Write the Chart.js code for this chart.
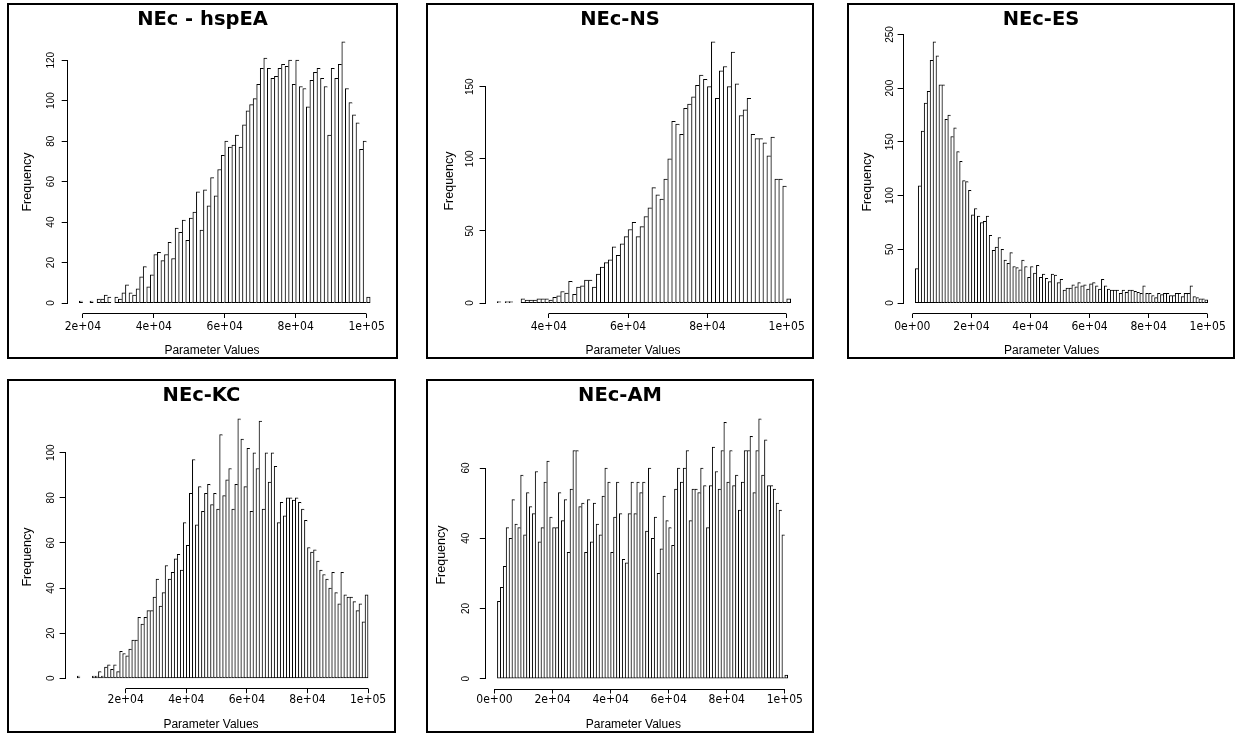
<!DOCTYPE html>
<html>
<head>
<meta charset="utf-8">
<script src="https://cdn.jsdelivr.net/npm/chart.js@4.4.1/dist/chart.umd.min.js"></script>
<style>
  html, body { margin: 0; padding: 0; background: #fff; }
  body { position: relative; width: 1236px; height: 736px; overflow: hidden; font-family: 'Liberation Sans', Arial, sans-serif; color: #000; }
  canvas { position: absolute; }
  .frame { position: absolute; box-sizing: border-box; border: 2px solid #000; pointer-events: none; }
  .lbl { position: absolute; white-space: nowrap; line-height: 1; transform: translate(-50%, -50%); }
  .title { font: bold 19.5px 'DejaVu Sans', Verdana, sans-serif; }
  .xlab { font-size: 12px; }
  .ylab { font-size: 12.5px; transform: translate(-50%, -50%) rotate(-90deg); }
</style>
</head>
<body>
<script>
// Histogram bins are 1000 wide; each counts array starts at its *_start break.
const BIN_WIDTH = 1000;

const hspEA_start = 19000;
const hspEA_counts = [
  1, 0, 0, 1, 0, 2, 2, 4, 3, 0,
  3, 2, 5, 9, 5, 4, 7, 13, 18, 8,
  14, 24, 25, 21, 24, 30, 22, 37, 35, 41,
  31, 42, 45, 55, 36, 56, 48, 62, 53, 66,
  73, 80, 77, 78, 83, 77, 88, 95, 98, 101,
  108, 116, 121, 116, 111, 112, 116, 118, 117, 120,
  108, 120, 107, 106, 97, 110, 114, 116, 111, 107,
  83, 116, 111, 118, 129, 106, 99, 93, 89, 76,
  80, 3
];
const hspEA_xticks = [20000, 40000, 60000, 80000, 100000];
const hspEA_yticks = [0, 20, 40, 60, 80, 100, 120];

const ns_start = 27000;
const ns_counts = [
  1, 0, 1, 1, 0, 0, 3, 2, 2, 2,
  3, 3, 3, 2, 4, 5, 8, 7, 15, 6,
  11, 12, 16, 16, 11, 20, 25, 28, 30, 39,
  33, 41, 46, 51, 56, 46, 53, 60, 66, 80,
  75, 72, 86, 100, 126, 124, 117, 135, 138, 143,
  151, 158, 155, 150, 181, 142, 161, 164, 150, 174,
  152, 130, 134, 142, 117, 114, 114, 111, 102, 115,
  86, 86, 81, 3
];
const ns_xticks = [40000, 60000, 80000, 100000];
const ns_yticks = [0, 50, 100, 150];

const es_start = 1000;
const es_counts = [
  32, 109, 160, 186, 197, 226, 243, 230, 203, 203,
  171, 175, 155, 163, 141, 132, 114, 113, 105, 82,
  88, 81, 75, 76, 81, 63, 49, 52, 61, 50,
  40, 37, 47, 34, 33, 31, 40, 34, 24, 34,
  28, 35, 24, 27, 23, 20, 27, 26, 19, 22,
  12, 14, 14, 17, 15, 19, 16, 17, 13, 18,
  19, 16, 13, 22, 16, 13, 12, 12, 12, 9,
  12, 10, 12, 12, 11, 10, 9, 16, 9, 9,
  7, 5, 9, 8, 9, 9, 7, 7, 9, 9,
  6, 9, 9, 16, 6, 5, 4, 4, 3
];
const es_xticks = [0, 20000, 40000, 60000, 80000, 100000];
const es_yticks = [0, 50, 100, 150, 200, 250];

const kc_start = 4000;
const kc_counts = [
  1, 0, 0, 0, 0, 1, 1, 3, 1, 5,
  6, 4, 6, 3, 12, 11, 10, 13, 17, 17,
  27, 24, 27, 30, 30, 36, 44, 32, 38, 50,
  44, 47, 53, 55, 48, 69, 59, 82, 97, 68,
  85, 74, 82, 86, 77, 82, 75, 108, 81, 88,
  93, 75, 86, 115, 106, 85, 102, 74, 100, 93,
  114, 75, 100, 87, 100, 94, 69, 78, 72, 80,
  80, 79, 80, 78, 75, 70, 58, 56, 57, 52,
  48, 46, 44, 40, 47, 38, 33, 47, 37, 36,
  36, 34, 30, 33, 25, 37
];
const kc_xticks = [20000, 40000, 60000, 80000, 100000];
const kc_yticks = [0, 20, 40, 60, 80, 100];

const am_start = 1000;
const am_counts = [
  22, 26, 32, 43, 40, 51, 44, 43, 58, 41,
  53, 49, 47, 59, 39, 43, 56, 62, 46, 43,
  43, 53, 45, 51, 36, 54, 65, 65, 49, 50,
  36, 51, 39, 50, 44, 41, 52, 60, 56, 36,
  46, 56, 47, 34, 33, 47, 56, 47, 56, 53,
  56, 42, 60, 40, 46, 30, 37, 52, 45, 43,
  38, 54, 60, 56, 60, 65, 45, 54, 54, 53,
  60, 55, 43, 55, 66, 59, 54, 65, 73, 56,
  65, 55, 58, 48, 56, 65, 65, 69, 53, 65,
  74, 58, 68, 55, 55, 54, 50, 48, 41, 1
];
const am_xticks = [0, 20000, 40000, 60000, 80000, 100000];
const am_yticks = [0, 20, 40, 60];

const panelTitles = ['NEc - hspEA', 'NEc-NS', 'NEc-ES', 'NEc-KC', 'NEc-AM'];
const xAxisTitle = 'Parameter Values';
const yAxisTitle = 'Frequency';

// Page geometry of each panel: outer frame, plot region, and label anchors.
const LAYOUT = [
  { frame: [7, 3, 398, 359],     area: [67.7, 31.5, 381.8, 313.5],  yLabelX: 51.2,  ylab: [27, 181.7],    xlab: [212, 350],    titleY: 17.5, xLabelOff: 13.7 },
  { frame: [426, 3, 814, 359],   area: [485.5, 31.5, 802.4, 313.5], yLabelX: 470.5, ylab: [449, 180.5],   xlab: [633, 350],    titleY: 17.8, xLabelOff: 13.7 },
  { frame: [847, 3, 1235, 359],  area: [903.6, 31.5, 1219.4, 313.5], yLabelX: 890,  ylab: [867, 181.7],   xlab: [1051.7, 350], titleY: 17.5, xLabelOff: 13.7 },
  { frame: [7, 379, 396, 733],   area: [65.6, 408.5, 379.7, 688.7], yLabelX: 51.3,  ylab: [27, 556.7],    xlab: [211, 724],    titleY: 394,  xLabelOff: 11.3 },
  { frame: [426, 379, 814, 733], area: [485.8, 408.5, 799.3, 689],  yLabelX: 466.3, ylab: [440.5, 555],   xlab: [633.3, 724],  titleY: 394,  xLabelOff: 11.3 }
];

const SERIES = [
  { start: hspEA_start, counts: hspEA_counts, xticks: hspEA_xticks, yticks: hspEA_yticks },
  { start: ns_start,    counts: ns_counts,    xticks: ns_xticks,    yticks: ns_yticks },
  { start: es_start,    counts: es_counts,    xticks: es_xticks,    yticks: es_yticks },
  { start: kc_start,    counts: kc_counts,    xticks: kc_xticks,    yticks: kc_yticks },
  { start: am_start,    counts: am_counts,    xticks: am_xticks,    yticks: am_yticks }
];

const X_TICK_FONT = { family: "'Liberation Sans Narrow', 'DejaVu Sans Condensed', Arial, sans-serif", size: 12, lineHeight: 1.2 };
const Y_TICK_FONT = { family: "'Liberation Sans', Arial, sans-serif", size: 10, lineHeight: 1.2 };
const X_TICK_LEN = 4.5;
const Y_TICK_LEN = 6;

// R-style scientific tick labels: 0e+00, 2e+04, 1e+05
function sciLabel(v) {
  if (v === 0) return '0e+00';
  const e = Math.floor(Math.log10(Math.abs(v)) + 1e-9);
  const m = Math.round(v / Math.pow(10, e));
  return m + 'e+' + String(e).padStart(2, '0');
}

const measureCtx = document.createElement('canvas').getContext('2d');
function textWidth(t, f) {
  measureCtx.font = f.size + 'px ' + f.family;
  return measureCtx.measureText(t).width;
}

function alignPx(p) { return Math.round(p - 0.5) + 0.5; }

// Axis lines that run only between the first and last tick, as base R draws them.
const rAxisLines = {
  id: 'rAxisLines',
  afterDraw(chart) {
    const { ctx, chartArea: a, scales: { x, y } } = chart;
    const xt = x.ticks, yt = y.ticks;
    ctx.save();
    ctx.strokeStyle = '#000';
    ctx.lineWidth = 1;
    ctx.beginPath();
    const yb = alignPx(a.bottom);
    ctx.moveTo(alignPx(x.getPixelForValue(xt[0].value)), yb);
    ctx.lineTo(alignPx(x.getPixelForValue(xt[xt.length - 1].value)), yb);
    const xl = alignPx(a.left);
    ctx.moveTo(xl, alignPx(y.getPixelForValue(yt[0].value)));
    ctx.lineTo(xl, alignPx(y.getPixelForValue(yt[yt.length - 1].value)));
    ctx.stroke();
    ctx.restore();
  }
};

function addLabel(cls, text, x, y) {
  const d = document.createElement('div');
  d.className = 'lbl ' + cls;
  d.textContent = text;
  d.style.left = x + 'px';
  d.style.top = y + 'px';
  document.body.appendChild(d);
}

SERIES.forEach((s, idx) => {
  const L = LAYOUT[idx];
  const [fl, ft, fr, fb] = L.frame;
  const [al, at, ar, ab] = L.area;
  const n = s.counts.length;
  const lastBreak = s.start + n * BIN_WIDTH;
  const span = lastBreak - s.start;
  const maxCount = Math.max(...s.counts);

  const points = s.counts.map((c, i) => ({ x: s.start + (i + 0.5) * BIN_WIDTH, y: c }));

  const canvas = document.createElement('canvas');
  canvas.width = fr - fl;
  canvas.height = fb - ft;
  canvas.style.left = fl + 'px';
  canvas.style.top = ft + 'px';
  document.body.appendChild(canvas);

  const yLabels = s.yticks.map(String);
  const widestY = Math.max(...yLabels.map(t => textWidth(t, Y_TICK_FONT)));
  const yPad = (al - L.yLabelX) - Y_TICK_LEN - widestY / 2;
  const xPad = L.xLabelOff - X_TICK_LEN - X_TICK_FONT.size * X_TICK_FONT.lineHeight / 2;

  new Chart(canvas, {
    type: 'bar',
    data: {
      datasets: [{
        data: points,
        backgroundColor: '#ffffff',
        borderColor: '#000000',
        borderSkipped: false,
        borderWidth: ctx => ({ top: 1, bottom: 1, left: 1, right: ctx.dataIndex === n - 1 ? 1 : 0 }),
        barPercentage: 1,
        categoryPercentage: 1
      }]
    },
    options: {
      responsive: false,
      animation: false,
      devicePixelRatio: 1,
      events: [],
      layout: { padding: { left: 0, top: at - ft, right: fr - ar, bottom: 0 } },
      plugins: { legend: { display: false }, tooltip: { enabled: false }, title: { display: false } },
      scales: {
        x: {
          type: 'linear',
          offset: false,
          min: s.start - 0.04 * span,
          max: lastBreak + 0.04 * span,
          border: { display: false },
          grid: { display: true, offset: false, drawOnChartArea: false, drawTicks: true, tickLength: X_TICK_LEN, color: '#000', lineWidth: 1 },
          afterBuildTicks: sc => { sc.ticks = s.xticks.map(v => ({ value: v })); },
          afterFit: sc => { sc.height = fb - ab; },
          ticks: {
            autoSkip: false, minRotation: 0, maxRotation: 0, padding: xPad,
            color: '#000', font: X_TICK_FONT,
            callback: v => sciLabel(v)
          }
        },
        y: {
          type: 'linear',
          min: -0.04 * maxCount,
          max: 1.04 * maxCount,
          border: { display: false },
          grid: { display: true, drawOnChartArea: false, drawTicks: true, tickLength: Y_TICK_LEN, color: '#000', lineWidth: 1 },
          afterBuildTicks: sc => { sc.ticks = s.yticks.map(v => ({ value: v })); },
          afterFit: sc => { sc.width = al - fl; },
          ticks: {
            autoSkip: false, minRotation: 90, maxRotation: 90, crossAlign: 'center', padding: yPad,
            color: '#000', font: Y_TICK_FONT,
            callback: v => String(v)
          }
        }
      }
    },
    plugins: [rAxisLines]
  });

  const frame = document.createElement('div');
  frame.className = 'frame';
  frame.style.left = fl + 'px';
  frame.style.top = ft + 'px';
  frame.style.width = (fr - fl) + 'px';
  frame.style.height = (fb - ft) + 'px';
  document.body.appendChild(frame);

  addLabel('title', panelTitles[idx], (fl + fr) / 2, L.titleY);
  addLabel('xlab', xAxisTitle, L.xlab[0], L.xlab[1]);
  addLabel('ylab', yAxisTitle, L.ylab[0], L.ylab[1]);
});
</script>
</body>
</html>
